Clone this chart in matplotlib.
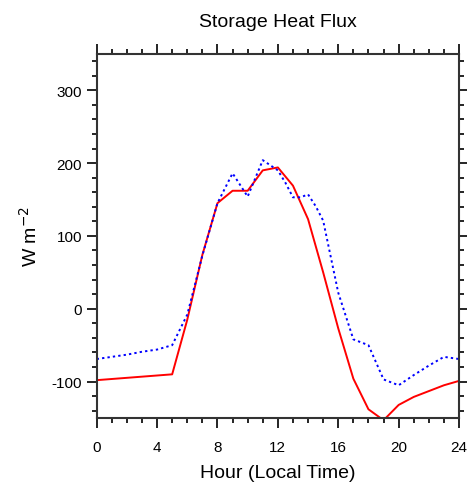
import numpy as np
import matplotlib
matplotlib.use('Agg')
import matplotlib.pyplot as plt
from matplotlib.ticker import MultipleLocator

plt.rcParams['font.family'] = ['Liberation Sans', 'DejaVu Sans']
plt.rcParams['axes.unicode_minus'] = False

# 数据：储热通量日变化 (W m-2)
hour_red = [0, 5, 6, 7, 8, 9, 10, 11, 12, 13, 14, 15, 16, 17, 18, 19, 20, 21, 22, 23, 24]
flux_red = [-98, -90, -15, 74, 145, 162, 162, 190, 194, 169, 123, 50, -27, -96, -138, -153,
            -132, -121, -113, -105, -99]

hour_blue = [0, 1, 2, 3, 4, 5, 6, 7, 8, 9, 10, 11, 12, 12.5, 13, 13.5, 14, 14.5, 15, 16, 17, 18,
             19, 20, 21, 22, 23, 24]
flux_blue = [-69, -66, -63, -59, -56, -50, -8, 73, 145, 186, 154, 204, 190, 173, 153, 153, 157,
             141, 121, 22, -42, -50, -97, -105, -91, -78, -66, -69]

xticks = [0, 4, 8, 12, 16, 20, 24]
yticks = [-100, 0, 100, 200, 300]

fig = plt.figure(figsize=(4.67, 4.85), dpi=100)
ax = fig.add_axes([0.207, 0.136, 0.776, 0.751])

ax.plot(hour_red, flux_red, color='red', lw=1.4, solid_joinstyle='round')
ax.plot(hour_blue, flux_blue, color='blue', lw=1.4, linestyle=(0, (1.2, 1.6)))

ax.set_xlim(0, 24)
ax.set_ylim(-150, 350)
ax.set_xticks(xticks)
ax.set_yticks(yticks)
ax.xaxis.set_minor_locator(MultipleLocator(1))
ax.yaxis.set_minor_locator(MultipleLocator(20))
ax.tick_params(which='both', direction='out', top=True, right=True, labelsize=11, width=1.2)
ax.tick_params(which='major', length=7)
ax.tick_params(which='minor', length=3.5)
ax.tick_params(axis='x', pad=9)
for s in ax.spines.values():
    s.set_linewidth(1.5)
    s.set_color('#333333')

ax.set_title('Storage Heat Flux', fontsize=14, pad=20)
ax.set_xlabel('Hour (Local Time)', fontsize=14, labelpad=7)
ax.set_ylabel('W m$^{-2}$', fontsize=14, labelpad=8)

fig.savefig('out.png', dpi=100)
